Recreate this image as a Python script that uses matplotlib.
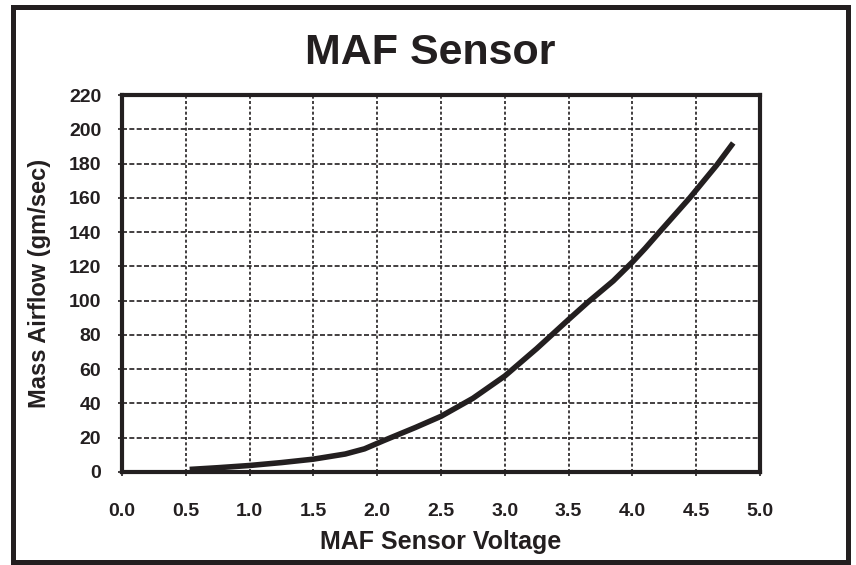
import matplotlib.pyplot as plt
from matplotlib.patches import Rectangle

# values
voltage = [0.53, 0.75, 1.0, 1.25, 1.5, 1.75, 1.9, 2.05, 2.3, 2.5, 2.75, 3.0, 3.25, 3.5,
           3.65, 3.85, 4.0, 4.1, 4.2, 4.45, 4.66, 4.79]
airflow = [1.5, 2.5, 3.8, 5.5, 7.5, 10.5, 13.5, 18.3, 26, 32.5, 43, 56, 72, 89,
           99, 111.5, 122.5, 130.5, 139, 160, 179, 192]

x_ticks = [0.0, 0.5, 1.0, 1.5, 2.0, 2.5, 3.0, 3.5, 4.0, 4.5, 5.0]
y_ticks = [0, 20, 40, 60, 80, 100, 120, 140, 160, 180, 200, 220]

plt.rcParams['font.family'] = ['Liberation Sans', 'DejaVu Sans']
plt.rcParams['font.weight'] = 'bold'

fig = plt.figure(figsize=(8.56, 5.65), dpi=100)
ax = fig.add_axes([122 / 856, 93 / 565, 638 / 856, 377 / 565])

ax.plot(voltage, airflow, color='#231f20', lw=4, solid_capstyle='butt',
        solid_joinstyle='round', zorder=3)

ax.set_xlim(0, 5)
ax.set_ylim(0, 220)
ax.set_xticks(x_ticks)
ax.set_yticks(y_ticks)
ax.set_xticklabels([f'{v:.1f}' for v in x_ticks])

# horizontal grid dashed, vertical grid dotted
for y in y_ticks[1:-1]:
    ax.axhline(y, color='#231f20', lw=1.2, dashes=(3, 1.4), zorder=1)
for x in x_ticks[1:-1]:
    ax.axvline(x, color='#231f20', lw=1.2, dashes=(1.8, 1.4), zorder=1)

for s in ax.spines.values():
    s.set_linewidth(3)
    s.set_color('#231f20')

ax.tick_params(axis='both', direction='out', length=3, width=1.2, color='#231f20',
               labelsize=14, labelcolor='#231f20')
ax.tick_params(axis='x', pad=19)
ax.tick_params(axis='y', pad=12)

ax.set_xlabel('MAF Sensor Voltage', fontsize=18, fontweight='bold', color='#231f20', va='center')
ax.xaxis.set_label_coords(0.5, -0.186)
ax.set_ylabel('Mass Airflow (gm/sec)', fontsize=17, fontweight='bold', color='#231f20', va='center')
ax.yaxis.set_label_coords((40 - 122) / 638, 0.5)

fig.text(430 / 856, 1 - 53 / 565, 'MAF Sensor', fontsize=31, fontweight='bold',
         color='#231f20', ha='center', va='center')

# outer frame
fig.patches.append(Rectangle((12.5 / 856, 3.5 / 565), 835 / 856, 555 / 565,
                             transform=fig.transFigure, fill=False,
                             edgecolor='#231f20', lw=3.6))

fig.savefig('out.png', dpi=100)
